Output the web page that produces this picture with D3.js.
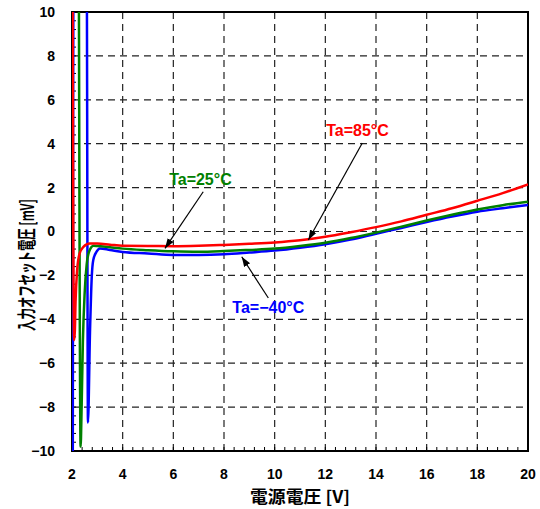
<!DOCTYPE html>
<html><head><meta charset="utf-8">
<script src="https://cdn.jsdelivr.net/npm/d3@7/dist/d3.min.js"></script>
<style>html,body{margin:0;padding:0;background:#fff;}</style>
</head><body>
<svg id="chart" width="540" height="509"></svg>
<script>
// ---- data ----
const xTicks = [2,4,6,8,10,12,14,16,18,20];
const yTicks = [-10,-8,-6,-4,-2,0,2,4,6,8,10];
const xTitle = "電源電圧 [V]";
const yTitle = "入力オフセット電圧 [mV]";

const vRed   = [2.02,2.08,2.11,2.14,2.2,2.3,2.45,2.7,3.0,3.5,4,5,6,7,8,9,10,11,12,13,14,15,16,17,18,19,20];
const mvRed  = [12,-4.95,-4.6,-3.2,-1.8,-1.0,-0.7,-0.55,-0.55,-0.6,-0.65,-0.66,-0.67,-0.65,-0.61,-0.56,-0.5,-0.4,-0.24,-0.03,0.2,0.46,0.76,1.06,1.4,1.75,2.15];

const vGreen  = [2.27,2.34,2.38,2.43,2.5,2.58,2.68,2.85,3.0,3.5,4,5,6,7,8,9,10,11,12,13,14,15,16,17,18,19,20];
const mvGreen = [12,-9.8,-8,-5,-2.8,-1.5,-0.9,-0.65,-0.66,-0.72,-0.78,-0.85,-0.9,-0.92,-0.89,-0.84,-0.78,-0.66,-0.51,-0.3,-0.05,0.22,0.5,0.76,1.0,1.2,1.36];

const vBlue  = [2.03,2.06,2.58,2.63,2.71,2.78,2.84,2.97,3.1,3.5,4,5,6,7,8,9,10,11,12,13,14,15,16,17,18,19,20];
const mvBlue = [-12,12,12,-8.7,-4.6,-2.06,-1.3,-0.92,-0.77,-0.84,-0.93,-1.0,-1.07,-1.07,-1.04,-0.96,-0.87,-0.74,-0.58,-0.37,-0.1,0.16,0.43,0.68,0.9,1.06,1.21];

const seriesNames  = ["Ta=−40°C","Ta=25°C","Ta=85°C"];
const seriesColors = ["#0000ff","#008000","#ff0000"];
// annotation: label anchor (V,mV), arrow start (V,mV), arrow end (V,mV)
const labelPos = [[9.75,-3.72],[7.07,2.12],[13.27,4.33]];
const arrowFrom = [[9.75,-3.03],[7.18,1.81],[13.46,4.03]];
const arrowTo   = [[8.7,-1.15],[5.67,-0.77],[11.33,-0.39]];

// ---- layout ----
const svg = d3.select("#chart");
const L = 72, R = 528, T = 12, B = 451;
const x = d3.scaleLinear().domain([2,20]).range([L,R]);
const y = d3.scaleLinear().domain([-10,10]).range([B,T]);
const numFont = "'Liberation Sans', Arial, sans-serif";
const cjkFont = "'Noto Sans CJK JP', sans-serif";

svg.append("rect").attr("width",540).attr("height",509).attr("fill","#fff");

const defs = svg.append("defs");
defs.append("clipPath").attr("id","clip").append("rect")
  .attr("x",L).attr("y",T).attr("width",R-L).attr("height",B-T);
defs.append("marker").attr("id","arr").attr("viewBox","0 0 10 10")
  .attr("refX",10).attr("refY",5).attr("markerWidth",10).attr("markerHeight",10)
  .attr("markerUnits","userSpaceOnUse").attr("orient","auto")
  .append("path").attr("d","M0,1.5 L10,5 L0,8.5 Z").attr("fill","#000");

// grid
const g = svg.append("g");
g.selectAll(".gx").data(xTicks.slice(1,-1)).join("line")
  .attr("x1",d=>x(d)).attr("x2",d=>x(d)).attr("y1",T).attr("y2",B)
  .attr("stroke","#222").attr("stroke-width",1.2).attr("stroke-dasharray","7,5");
g.selectAll(".gy").data(yTicks.slice(1,-1)).join("line")
  .attr("y1",d=>y(d)).attr("y2",d=>y(d)).attr("x1",L).attr("x2",R)
  .attr("stroke","#222").attr("stroke-width",1.2).attr("stroke-dasharray","7,5");

// minor ticks
const xMinor = d3.range(2,20.001,0.4);
const yMinor = d3.range(-10,10.001,0.4);
g.selectAll(".mx").data(xMinor).join("line")
  .attr("x1",d=>x(d)).attr("x2",d=>x(d)).attr("y1",B).attr("y2",B-4)
  .attr("stroke","#000").attr("stroke-width",1);
g.selectAll(".my").data(yMinor).join("line")
  .attr("y1",d=>y(d)).attr("y2",d=>y(d)).attr("x1",L).attr("x2",L+4)
  .attr("stroke","#000").attr("stroke-width",1);

// frame
svg.append("rect").attr("x",L).attr("y",T).attr("width",R-L).attr("height",B-T)
  .attr("fill","none").attr("stroke","#000").attr("stroke-width",2);

// series
const series = [
  vBlue.map((v,i)=>[v,mvBlue[i]]),
  vGreen.map((v,i)=>[v,mvGreen[i]]),
  vRed.map((v,i)=>[v,mvRed[i]])
];
const line = d3.line().x(d=>x(d[0])).y(d=>y(d[1])).curve(d3.curveMonotoneX);
svg.append("g").attr("clip-path","url(#clip)")
  .selectAll("path").data(series).join("path")
  .attr("d",line).attr("fill","none")
  .attr("stroke",(d,i)=>seriesColors[i]).attr("stroke-width",2.5)
  .attr("stroke-linejoin","round");

// tick labels
svg.append("g").selectAll("text").data(xTicks).join("text")
  .attr("x",d=>x(d)).attr("y",B+28).attr("text-anchor","middle")
  .attr("font-family",numFont).attr("font-weight","bold").attr("font-size",14)
  .text(d=>d);
svg.append("g").selectAll("text").data(yTicks).join("text")
  .attr("x",L-17).attr("y",d=>y(d)).attr("dy","0.35em").attr("text-anchor","end")
  .attr("font-family",numFont).attr("font-weight","bold").attr("font-size",14)
  .text(d=>d<0? "−"+Math.abs(d) : d);

// axis titles (condensed to the reference's length)
function condensed(parent, txt, size, targetLen, tf) {
  const gg = parent.append("g").attr("transform", tf);
  const t = gg.append("text").attr("text-anchor","middle")
    .attr("font-family",cjkFont).attr("font-weight","bold").attr("font-size",size)
    .text(txt);
  const w = t.node().getComputedTextLength();
  t.attr("transform", `scale(${targetLen / w},1)`);
}
condensed(svg, xTitle, 17, 100, `translate(${(L+R)/2},503)`);
condensed(svg, yTitle, 19, 132, "translate(34,265) rotate(-90)");

// annotations
const ann = svg.append("g");
seriesNames.forEach((name,i)=>{
  ann.append("line")
    .attr("x1",x(arrowFrom[i][0])).attr("y1",y(arrowFrom[i][1]))
    .attr("x2",x(arrowTo[i][0])).attr("y2",y(arrowTo[i][1]))
    .attr("stroke","#000").attr("stroke-width",1.2).attr("marker-end","url(#arr)");
  ann.append("text").attr("x",x(labelPos[i][0])).attr("y",y(labelPos[i][1]))
    .attr("text-anchor","middle").attr("font-family",numFont).attr("font-weight","bold")
    .attr("font-size",16).attr("fill",seriesColors[i]).text(name);
});
</script>
</body></html>
